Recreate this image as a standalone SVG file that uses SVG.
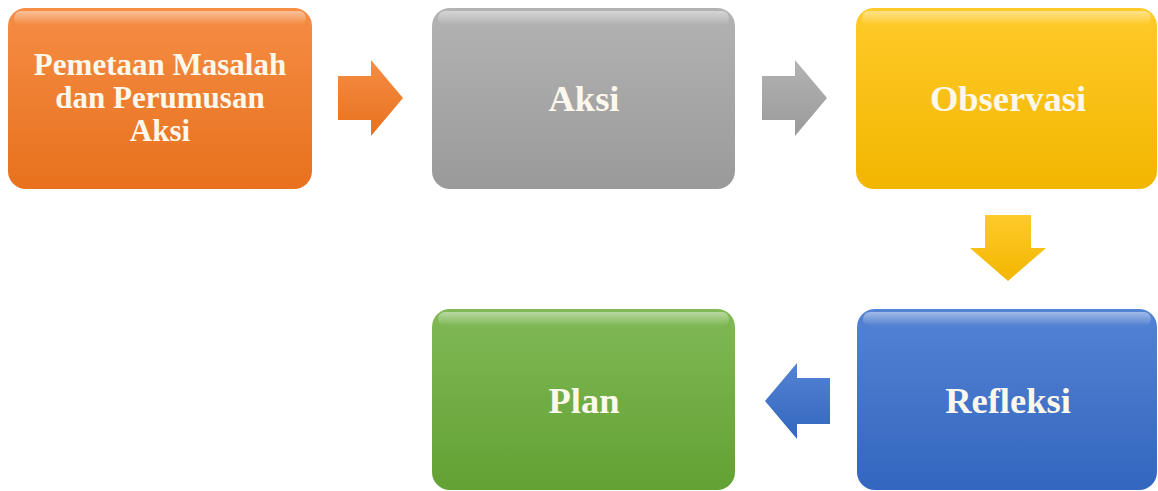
<svg xmlns="http://www.w3.org/2000/svg" width="1158" height="491" viewBox="0 0 1158 491">
<defs>
<linearGradient id="gO" x1="0" y1="0" x2="0" y2="1"><stop offset="0" stop-color="#f58d45"/><stop offset="1" stop-color="#e8711d"/></linearGradient>
<linearGradient id="gG" x1="0" y1="0" x2="0" y2="1"><stop offset="0" stop-color="#b3b3b3"/><stop offset="1" stop-color="#9a9a9a"/></linearGradient>
<linearGradient id="gY" x1="0" y1="0" x2="0" y2="1"><stop offset="0" stop-color="#ffcb2a"/><stop offset="1" stop-color="#f2b600"/></linearGradient>
<linearGradient id="gB" x1="0" y1="0" x2="0" y2="1"><stop offset="0" stop-color="#5383d3"/><stop offset="1" stop-color="#3366bf"/></linearGradient>
<linearGradient id="gN" x1="0" y1="0" x2="0" y2="1"><stop offset="0" stop-color="#80b955"/><stop offset="1" stop-color="#62a134"/></linearGradient>
<linearGradient id="hl" x1="0" y1="0" x2="0" y2="1"><stop offset="0" stop-color="#ffffff" stop-opacity="0.45"/><stop offset="1" stop-color="#ffffff" stop-opacity="0"/></linearGradient>
</defs>
<style>
.t{font-family:"Liberation Serif","Times New Roman",serif;font-weight:bold;font-size:31px;fill:#fdf8ec;text-anchor:middle}
.b{font-size:36.5px}
.hl{fill:url(#hl)}
</style>
<g id="connectors">
<polygon points="338,76 371,76 371,60 403,98 371,136 371,120 338,120" fill="url(#gO)"/>
<polygon points="762,76 795,76 795,60 827,98 795,136 795,120 762,120" fill="url(#gG)"/>
<polygon points="985,215 1031,215 1031,248 1046,248 1008,281 970,248 985,248" fill="url(#gY)"/>
<polygon points="830,378 797,378 797,363 765,401 797,439 797,424 830,424" fill="url(#gB)"/>
</g>
<g id="n1">
<rect x="8" y="8" width="304" height="181" rx="18" fill="url(#gO)"/>
<rect x="14" y="11" width="292" height="14" rx="7" class="hl"/>
<text class="t" x="160" y="75">Pemetaan Masalah</text>
<text class="t" x="160" y="108">dan Perumusan</text>
<text class="t" x="160" y="141">Aksi</text>
</g>
<g id="n2">
<rect x="432" y="8" width="303" height="181" rx="18" fill="url(#gG)"/>
<rect x="438" y="11" width="291" height="14" rx="7" class="hl"/>
<text class="t b" x="584" y="111">Aksi</text>
</g>
<g id="n3">
<rect x="856" y="8" width="301" height="181" rx="18" fill="url(#gY)"/>
<rect x="862" y="11" width="289" height="14" rx="7" class="hl"/>
<text class="t b" x="1008" y="111">Observasi</text>
</g>
<g id="n4">
<rect x="857" y="309" width="300" height="181" rx="18" fill="url(#gB)"/>
<rect x="863" y="312" width="288" height="14" rx="7" class="hl"/>
<text class="t b" x="1008" y="413">Refleksi</text>
</g>
<g id="n5">
<rect x="432" y="309" width="303" height="181" rx="18" fill="url(#gN)"/>
<rect x="438" y="312" width="291" height="14" rx="7" class="hl"/>
<text class="t b" x="584" y="413">Plan</text>
</g>
</svg>
